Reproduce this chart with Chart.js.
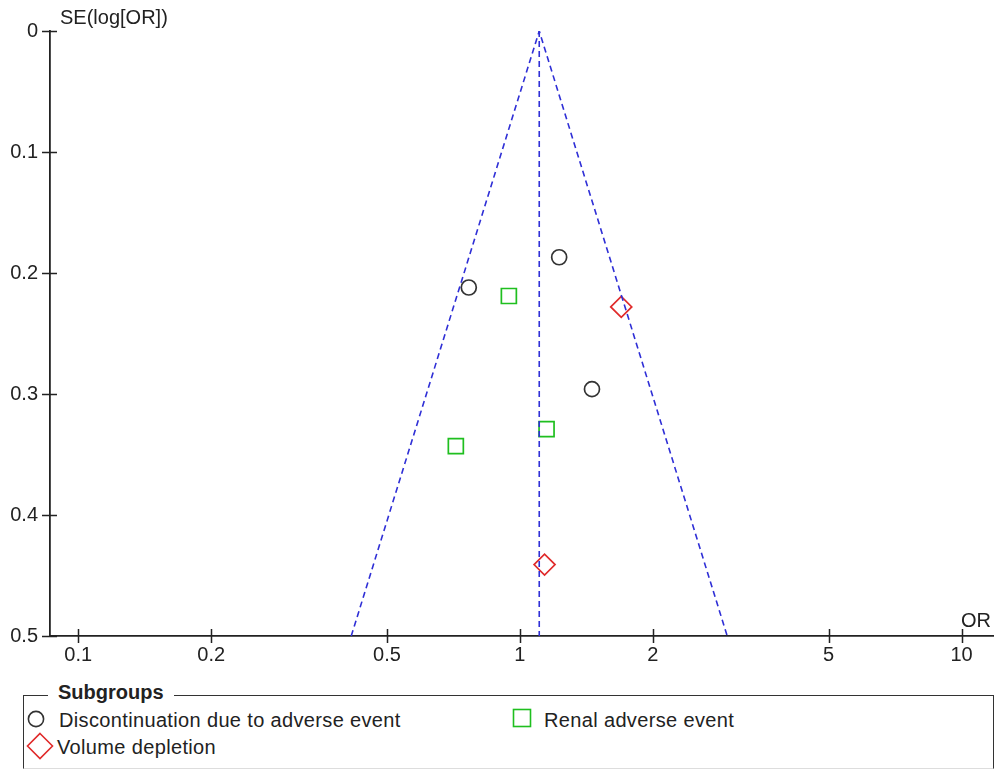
<!DOCTYPE html>
<html>
<head>
<meta charset="utf-8">
<title>Funnel plot</title>
<script src="https://cdn.jsdelivr.net/npm/chart.js@4.4.1/dist/chart.umd.min.js"></script>
<style>
  html, body { margin: 0; padding: 0; background: #fff; }
  #wrap { position: relative; width: 995px; height: 771px; overflow: hidden;
          font-family: "Liberation Sans", Arial, sans-serif; color: #222; }
  #plot { position: absolute; left: 0; top: 0; }
  #legendBox { position: absolute; left: 23px; top: 695px; width: 969px; height: 72px;
               border: 1px solid #333; border-bottom-color: #ddd; border-right-color: #333; }
  #legendTitle { position: absolute; left: 48px; top: 682px; padding: 0 10px; background: #fff;
                 font-weight: bold; font-size: 20px; line-height: 20px; }
  .item { position: absolute; font-size: 20px; line-height: 20px; white-space: nowrap; letter-spacing: 0.35px; }
  .sym { position: absolute; }
</style>
</head>
<body>
<div id="wrap">
  <canvas id="plot" width="995" height="680"></canvas>
  <div id="legendBox"></div>
  <div id="legendTitle">Subgroups</div>
  <div id="legendItems"></div>
</div>
<script>
// Subgroup labels
const subgroupNames = ['Discontinuation due to adverse event', 'Renal adverse event', 'Volume depletion'];

// Study estimates per subgroup: odds ratio and SE of log odds ratio
const discontinuationOR = [1.227, 0.766, 1.456];
const discontinuationSE = [0.187, 0.212, 0.296];
const renalOR = [0.944, 1.149, 0.716];
const renalSE = [0.219, 0.329, 0.343];
const volumeOR = [1.696, 1.137];
const volumeSE = [0.228, 0.441];

// Pooled estimate and 95% pseudo-confidence limits at the bottom of the funnel
const pooledOR = [1.106, 1.106];
const pooledSE = [0, 0.5];
const funnelOR = [0.415, 1.106, 2.947];
const funnelSE = [0.5, 0, 0.5];

// Axis ticks
const orTicks = [0.1, 0.2, 0.5, 1, 2, 5, 10];
const seTicks = [0, 0.1, 0.2, 0.3, 0.4, 0.5];

const pts = (xs, ys) => xs.map((v, i) => ({ x: v, y: ys[i] }));

const FONT = '"Liberation Sans", Arial, sans-serif';
const INK = '#222';
const BLUE = '#2f2fd6';

const axisDecor = {
  id: 'axisDecor',
  afterDraw(chart) {
    const { ctx, scales: { x, y } } = chart;
    ctx.save();
    ctx.strokeStyle = INK;
    ctx.lineWidth = 1.5;
    ctx.beginPath();
    x.ticks.forEach(t => {
      const px = Math.round(x.getPixelForValue(t.value)) + 0.5;
      ctx.moveTo(px, x.top - 7);
      ctx.lineTo(px, x.top + 7);
    });
    y.ticks.forEach(t => {
      const py = Math.round(y.getPixelForValue(t.value)) + 0.5;
      ctx.moveTo(y.right - 8, py);
      ctx.lineTo(y.right + 7, py);
    });
    ctx.stroke();
    ctx.fillStyle = INK;
    ctx.font = '20px ' + FONT;
    ctx.textBaseline = 'alphabetic';
    ctx.textAlign = 'left';
    ctx.fillText('SE(log[OR])', 60, 24);
    ctx.fillText('OR', 961, 627);
    ctx.restore();
  }
};

new Chart(document.getElementById('plot'), {
  data: {
    datasets: [
      { type: 'line', data: pts(funnelOR, funnelSE), borderColor: BLUE, borderWidth: 1.6,
        borderDash: [6, 4], pointRadius: 0, fill: false, tension: 0 },
      { type: 'line', data: pts(pooledOR, pooledSE), borderColor: BLUE, borderWidth: 1.6,
        borderDash: [6, 4], pointRadius: 0, fill: false },
      { type: 'scatter', label: subgroupNames[0], data: pts(discontinuationOR, discontinuationSE),
        pointStyle: 'circle', pointRadius: 7.5, borderWidth: 1.7,
        pointBorderColor: '#333', pointBackgroundColor: 'rgba(0,0,0,0)' },
      { type: 'scatter', label: subgroupNames[1], data: pts(renalOR, renalSE),
        pointStyle: 'rect', pointRadius: 10.6, borderWidth: 1.7,
        pointBorderColor: '#1fbf1f', pointBackgroundColor: 'rgba(0,0,0,0)' },
      { type: 'scatter', label: subgroupNames[2], data: pts(volumeOR, volumeSE),
        pointStyle: 'rectRot', pointRadius: 10.5, borderWidth: 1.7,
        pointBorderColor: '#e02a2a', pointBackgroundColor: 'rgba(0,0,0,0)' }
    ]
  },
  options: {
    responsive: false,
    animation: false,
    events: [],
    layout: { autoPadding: false, padding: { top: 31, right: 2, left: 0, bottom: 0 } },
    plugins: { legend: { display: false }, tooltip: { enabled: false } },
    scales: {
      x: {
        type: 'logarithmic',
        position: 'bottom',
        min: 0.0863,
        max: 11.78,
        afterBuildTicks: s => { s.ticks = orTicks.map(v => ({ value: v })); },
        afterFit: s => { s.height = 44; s.paddingLeft = 0; s.paddingRight = 0; },
        grid: { display: false, drawTicks: false },
        border: { display: true, color: INK, width: 1.8 },
        ticks: { color: INK, font: { size: 20, family: FONT }, padding: 7,
                 autoSkip: false, maxRotation: 0, callback: v => String(v) }
      },
      y: {
        type: 'linear',
        position: 'left',
        reverse: true,
        min: 0,
        max: 0.5,
        afterBuildTicks: s => { s.ticks = seTicks.map(v => ({ value: v })); },
        afterFit: s => { s.width = 50; s.paddingTop = 0; s.paddingBottom = 0; },
        grid: { display: false, drawTicks: false },
        border: { display: true, color: INK, width: 1.8 },
        ticks: { color: INK, font: { size: 20, family: FONT }, padding: 12,
                 callback: v => String(Number(v.toFixed(1))) }
      }
    }
  },
  plugins: [axisDecor]
});

// Legend entries: symbol markup, symbol box, text position
const svgNS = 'http://www.w3.org/2000/svg';
const legendSymbols = [
  '<circle cx="10" cy="10" r="7.6" fill="none" stroke="#333" stroke-width="1.6"/>',
  '<rect x="1.5" y="1.5" width="17" height="17" fill="none" stroke="#1fbf1f" stroke-width="1.6"/>',
  '<polygon points="14,1.5 26.5,14 14,26.5 1.5,14" fill="none" stroke="#e02a2a" stroke-width="1.6"/>'
];
const legendLayout = [
  { sx: 26, sy: 709, sw: 20, sh: 20, tx: 59, ty: 710 },
  { sx: 512, sy: 708, sw: 20, sh: 20, tx: 544, ty: 710 },
  { sx: 26, sy: 732, sw: 28, sh: 28, tx: 57, ty: 737 }
];
const holder = document.getElementById('legendItems');
subgroupNames.forEach((name, i) => {
  const L = legendLayout[i];
  const sym = document.createElement('div');
  sym.className = 'sym';
  sym.style.left = L.sx + 'px';
  sym.style.top = L.sy + 'px';
  sym.innerHTML = '<svg xmlns="' + svgNS + '" width="' + L.sw + '" height="' + L.sh + '">' + legendSymbols[i] + '</svg>';
  holder.appendChild(sym);
  const txt = document.createElement('div');
  txt.className = 'item';
  txt.style.left = L.tx + 'px';
  txt.style.top = L.ty + 'px';
  txt.textContent = name;
  holder.appendChild(txt);
});
</script>
</body>
</html>
